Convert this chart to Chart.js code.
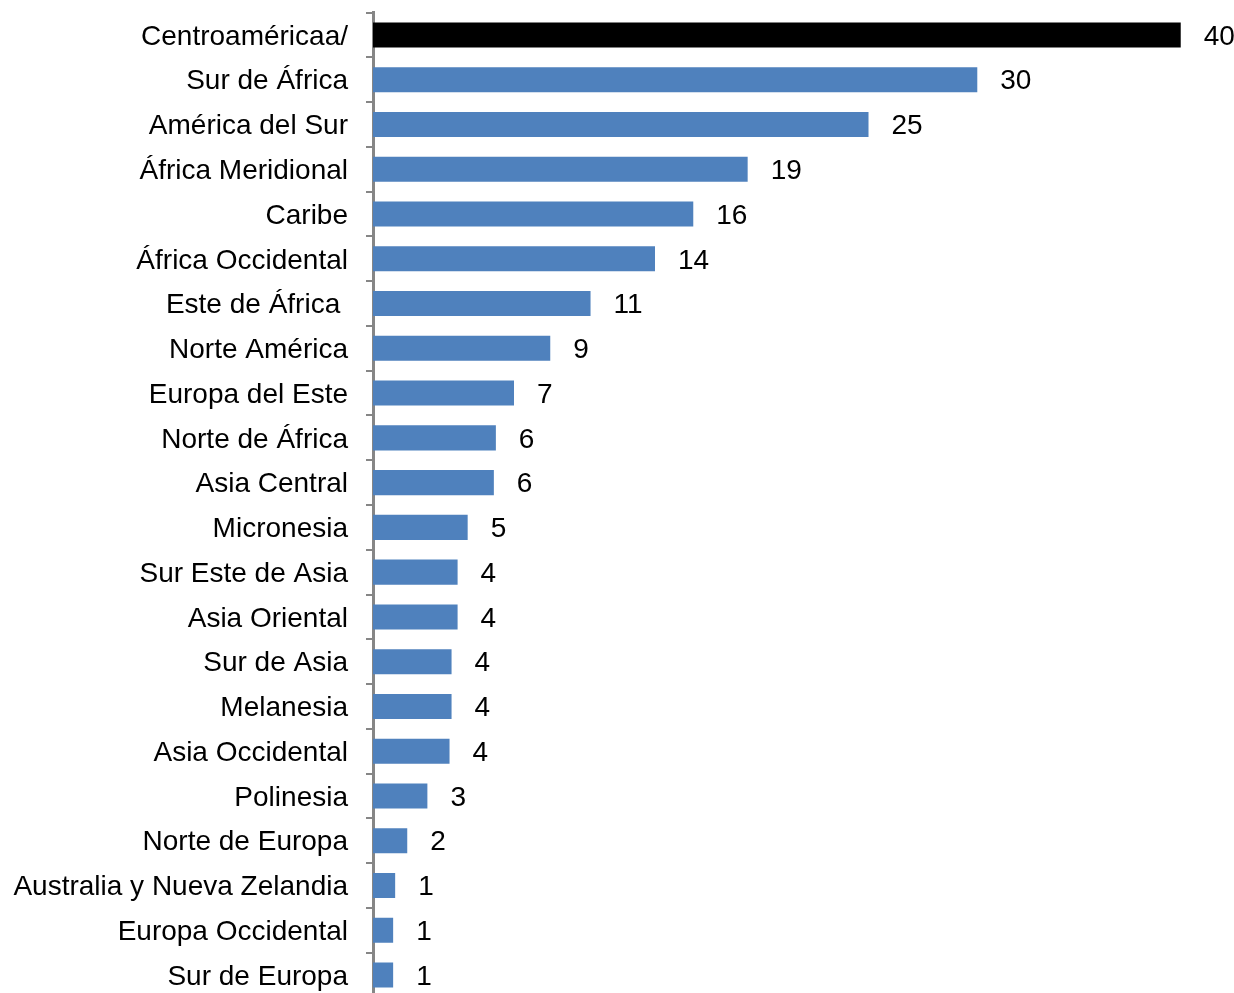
<!DOCTYPE html>
<html>
<head>
<meta charset="utf-8">
<script src="https://cdn.jsdelivr.net/npm/chart.js@4"></script>
<style>
  html, body { margin: 0; padding: 0; background: #fff; overflow: hidden; }
  #wrap { position: absolute; left: 0; top: 0; }
</style>
</head>
<body>
<div id="wrap"><canvas id="regionChart" width="1234" height="1010"></canvas></div>
<script>
// categories, top to bottom
const regions = [
    "Centroaméricaa/", "Sur de África", "América del Sur", "África Meridional", "Caribe",
    "África Occidental", "Este de África ", "Norte América", "Europa del Este", "Norte de África",
    "Asia Central", "Micronesia", "Sur Este de Asia", "Asia Oriental", "Sur de Asia",
    "Melanesia", "Asia Occidental", "Polinesia", "Norte de Europa", "Australia y Nueva Zelandia",
    "Europa Occidental", "Sur de Europa"
];

// values (labels show them rounded)
const values = [
    40.1, 30.0, 24.6, 18.6, 15.9,
    14.0, 10.8, 8.8, 7.0, 6.1,
    6.0, 4.7, 4.2, 4.2, 3.9,
    3.9, 3.8, 2.7, 1.7, 1.1,
    1.0, 1.0
];

const barColors = regions.map((r, i) => i === 0 ? "#000000" : "#4F81BD");

const labelFont = "'Liberation Sans', Arial, sans-serif";

// draws the number next to each bar
const valueLabels = {
    id: "valueLabels",
    afterDatasetsDraw(chart) {
        const ctx = chart.ctx;
        const meta = chart.getDatasetMeta(0);
        ctx.save();
        ctx.font = "28px " + labelFont;
        ctx.fillStyle = "#000";
        ctx.textAlign = "left";
        ctx.textBaseline = "middle";
        meta.data.forEach((bar, i) => {
            ctx.fillText(values[i].toFixed(0), bar.x + 23, bar.y + 2);
        });
        ctx.restore();
    }
};

new Chart(document.getElementById("regionChart").getContext("2d"), {
    type: "bar",
    data: {
        labels: regions,
        datasets: [{
            data: values,
            backgroundColor: barColors,
            borderWidth: 0,
            barPercentage: 0.56,
            categoryPercentage: 1.0
        }]
    },
    options: {
        indexAxis: "y",
        responsive: false,
        animation: false,
        layout: { padding: { top: 12.6, bottom: 12.6, left: 0, right: 15 } },
        plugins: {
            legend: { display: false },
            tooltip: { enabled: false }
        },
        scales: {
            x: {
                display: false,
                min: 0,
                max: 42
            },
            y: {
                afterFit: (scale) => {
                    scale.width = 373;
                    scale.paddingTop = 0;
                    scale.paddingBottom = 0;
                },
                grid: {
                    offset: true,
                    drawOnChartArea: false,
                    drawTicks: true,
                    tickLength: 7,
                    color: "#868686",
                    lineWidth: 2
                },
                border: { display: true, color: "#868686", width: 3 },
                ticks: {
                    color: "#000",
                    padding: 18,
                    labelOffset: 2,
                    autoSkip: false,
                    font: { family: labelFont, size: 28 }
                }
            }
        }
    },
    plugins: [valueLabels]
});
</script>
</body>
</html>
